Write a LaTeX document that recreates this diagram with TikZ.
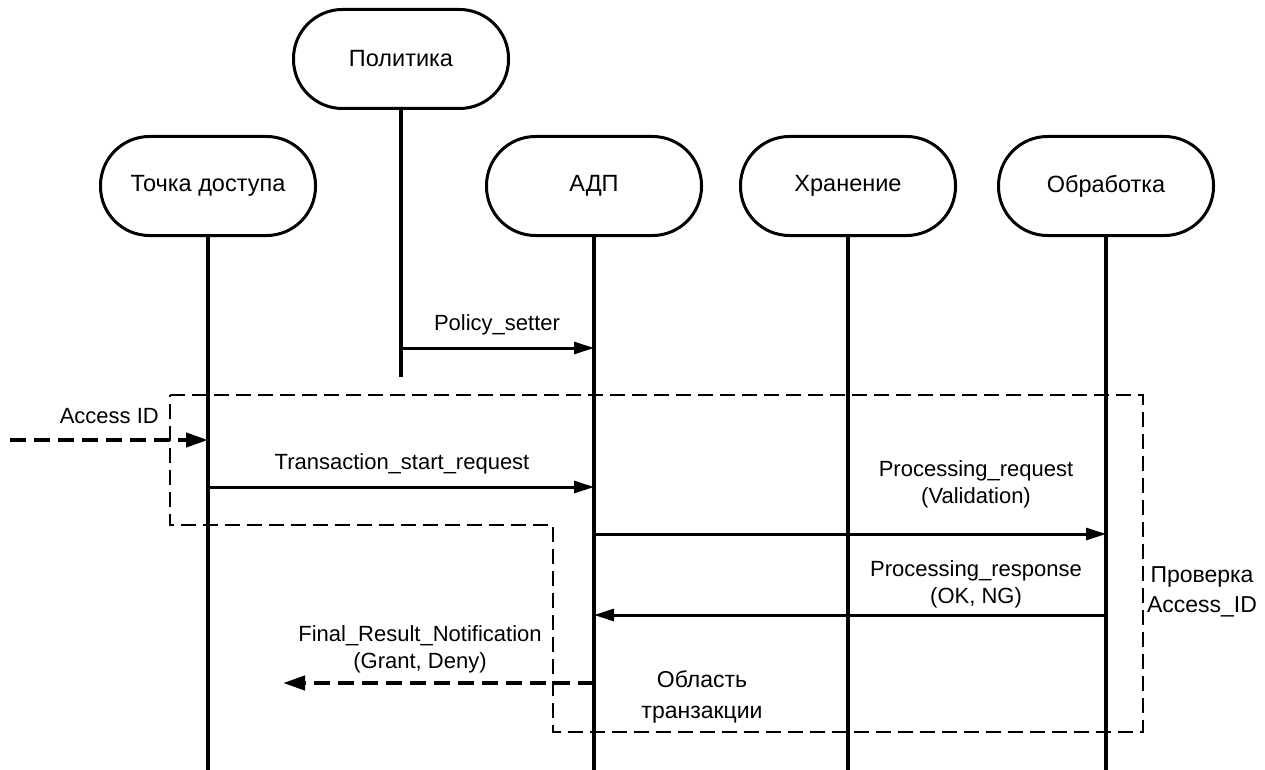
\documentclass[tikz,border=0pt]{standalone}
\usepackage{fontspec}
\setmainfont{Liberation Sans}
\usetikzlibrary{arrows.meta}
\begin{document}
\begin{tikzpicture}[x=1pt,y=-1pt,
  actor/.style={draw,line width=3pt,rounded corners=49pt,minimum width=215pt,minimum height=99pt,inner sep=0pt,font=\fontsize{23.5}{27}\selectfont},
  life/.style={line width=4pt},
  msg/.style={line width=3pt,-{Triangle[length=20pt,width=12pt]}},
  dmsg/.style={line width=4pt,dash pattern=on 16pt off 8pt,-{Triangle[length=22pt,width=14pt]}},
  area/.style={line width=2pt,dash pattern=on 15pt off 7pt},
  lbl/.style={font=\fontsize{22}{27}\selectfont,align=center,inner sep=0pt}]
\useasboundingbox (0,0) rectangle (1265,770);
% actors
\node[actor] (pol) at (401,59) {Политика};
\node[actor] (ap) at (208,186) {Точка доступа};
\node[actor] (adp) at (594,186) {АДП};
\node[actor] (st) at (848,186) {Хранение};
\node[actor] (pr) at (1106,186) {Обработка};
% lifelines
\coordinate (polend) at (401,377);
\draw[life] (pol.south) -- (polend);
\foreach \n in {ap,adp,st,pr} \draw[life] (\n.south) -- (\n.south |- 0,770);
% transaction area
\draw[area] (170,395) -- (1143,395) -- (1143,732) -- (553,732) -- (553,525) -- (170,525) -- cycle;
% messages
\draw[msg] (pol.south |- 0,348) -- (adp.south |- 0,348);
\node[lbl] (lps) at (497,325) {Policy\_setter};
\coordinate (aidin) at (10,440);
\draw[dmsg] (aidin) -- (ap.south |- 0,440);
\node[lbl,anchor=east] (laid) at (159,416) {Access ID};
\draw[msg] (ap.south |- 0,487) -- (adp.south |- 0,487);
\node[lbl] (ltsr) at (402,464) {Transaction\_start\_request};
\draw[msg] (adp.south |- 0,534) -- (pr.south |- 0,534);
\node[lbl] (lpreq) at (976,484) {Processing\_request\\(Validation)};
\draw[msg] (pr.south |- 0,615) -- (adp.south |- 0,615);
\node[lbl] (lpres) at (976,584) {Processing\_response\\(OK, NG)};
\coordinate (frout) at (283,683);
\draw[dmsg] (adp.south |- 0,683) -- (frout);
\node[lbl] (lfr) at (420,649) {Final\_Result\_Notification\\(Grant, Deny)};
\node[lbl,font=\fontsize{23}{31}\selectfont] (lobl) at (702,697) {Область\\транзакции};
\node[lbl,font=\fontsize{23}{30}\selectfont] (lchk) at (1202,592) {Проверка\\Access\_ID};
\end{tikzpicture}
\end{document}
